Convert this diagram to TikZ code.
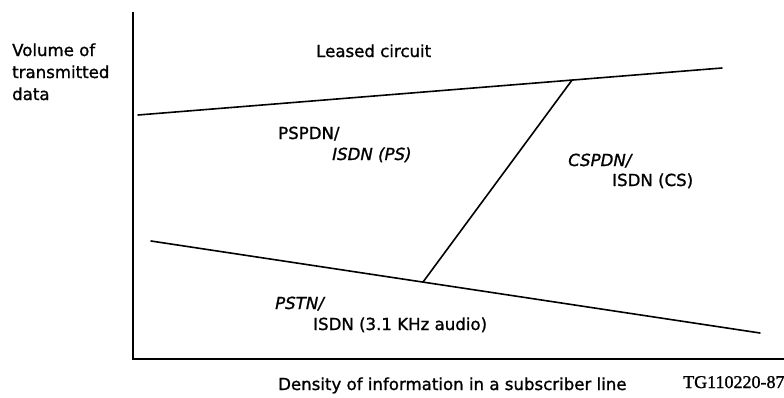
\documentclass[tikz,border=0pt]{standalone}
\usepackage{fontspec}
\setmainfont[FakeBold=1.2]{DejaVu Sans}
\newfontfamily\figserif[FakeBold=1.2]{Liberation Serif}
\usepackage{tikz}
\usetikzlibrary{calc}

\begin{document}
\begin{tikzpicture}[x=1pt, y=-1pt,
  axis/.style={line width=2pt},
  bound/.style={line width=1.6pt, line cap=round},
  lbl/.style={inner sep=0pt, anchor=base west, font=\fontsize{16.6}{19}\selectfont},
  slbl/.style={lbl, font=\fontsize{16.6}{19}\selectfont\itshape}]
 \useasboundingbox (0,0) rectangle (784,397);
 % axes
 \coordinate (ytop) at (133,12);
 \coordinate (origin) at (133,359);
 \coordinate (xend) at (784,359);
 \draw[axis] (ytop) -- (origin) -- (xend);
 % region boundaries
 \coordinate (upleft) at (138,115);
 \coordinate (upright) at (722,68);
 \coordinate (lowleft) at (151,241);
 \coordinate (lowright) at (760,333);
 \coordinate (splittop) at ($(upleft)!0.7432!(upright)$);
 \coordinate (splitbot) at ($(lowleft)!0.4466!(lowright)$);
 \draw[bound] (upleft) -- (upright);
 \draw[bound] (lowleft) -- (lowright);
 \draw[bound] (splitbot) -- (splittop);
 % axis titles
 \node[lbl] (vol1) at (12,56) {Volume of};
 \node[lbl] (vol2) at (12,78) {transmitted};
 \node[lbl] (vol3) at (12,100) {data};
 \node[lbl] (density) at (278,390) {Density of information in a subscriber line};
 \node[lbl, font=\fontsize{18}{20}\selectfont\figserif] (figno) at (683,388) {TG110220-87};
 % regions
 \node[lbl] (leased) at (316,57) {Leased circuit};
 \node[lbl] (pspdn) at (278,139) {PSPDN/};
 \node[slbl] (isdnps) at (332,160) {ISDN (PS)};
 \node[slbl] (cspdn) at (568,166) {CSPDN/};
 \node[lbl] (isdncs) at (612,186) {ISDN (CS)};
 \node[slbl] (pstn) at (275,309) {PSTN/};
 \node[lbl] (isdnaudio) at (313,330) {ISDN (3.1 KHz audio)};
\end{tikzpicture}
\end{document}
